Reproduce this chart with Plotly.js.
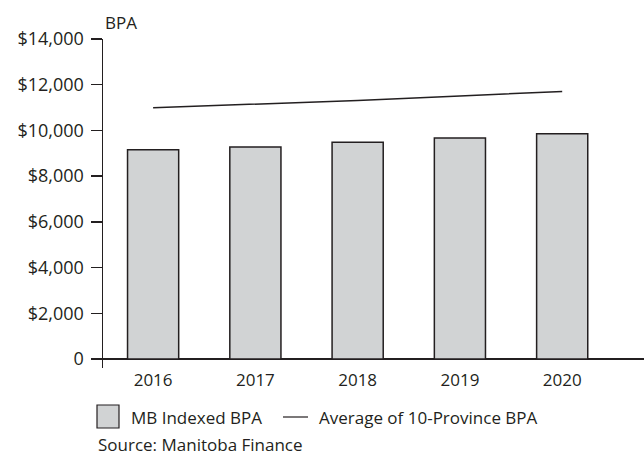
<!DOCTYPE html>
<html>
<head>
<meta charset="utf-8">
<script src="https://cdn.plot.ly/plotly-3.0.1.min.js"></script>
<style>html,body{margin:0;padding:0;background:#fff;}#chart{width:644px;height:459px;}</style>
</head>
<body>
<div id="chart"></div>
<script>
var years = ['2016', '2017', '2018', '2019', '2020'];
var mbIndexedBPA = [9160, 9270, 9480, 9670, 9860];
var avgProvinceBPA = [10990, 11150, 11310, 11510, 11700];
var yTickVals = [0, 2000, 4000, 6000, 8000, 10000, 12000, 14000];
var yTickText = ['0', '$2,000', '$4,000', '$6,000', '$8,000', '$10,000', '$12,000', '$14,000'];
var seriesNames = ['MB Indexed BPA', 'Average of 10-Province BPA'];
var yAxisLabel = 'BPA';
var sourceNote = 'Source: Manitoba Finance';

var W = 644, H = 459;
var mL = 103, mR = 0, mT = 39, mB = 91;
function px(x) { return (x - mL) / (W - mL - mR); }
function py(y) { return (H - mB - y) / (H - mT - mB); }

var ink = '#231f20';
var fontFam = '"Open Sans", "DejaVu Sans", sans-serif';

var traces = [
  {
    type: 'bar', x: years, y: mbIndexedBPA, name: seriesNames[0],
    marker: {color: '#d1d3d4', line: {color: ink, width: 1.5}},
    hoverinfo: 'skip', showlegend: false
  },
  {
    type: 'scatter', mode: 'lines', x: years, y: avgProvinceBPA, name: seriesNames[1],
    line: {color: ink, width: 1.5}, hoverinfo: 'skip', showlegend: false
  }
];

var layout = {
  width: W, height: H,
  margin: {l: mL, r: mR, t: mT, b: mB, pad: 0},
  paper_bgcolor: '#fff', plot_bgcolor: '#fff',
  font: {family: fontFam, size: 17, color: ink},
  bargap: 0.5,
  showlegend: false,
  xaxis: {
    type: 'category', range: [-0.49, 4.8],
    showline: false, showgrid: false, zeroline: false,
    ticks: '', tickfont: {size: 17, color: ink}, fixedrange: true
  },
  yaxis: {
    range: [-394, 14000],
    tickvals: yTickVals, ticktext: yTickText,
    showline: true, linecolor: ink, linewidth: 1.5,
    ticks: 'outside', ticklen: 11, tickwidth: 1.5, tickcolor: ink,
    ticklabelstandoff: 3,
    showgrid: false, zeroline: true, zerolinecolor: ink, zerolinewidth: 1.5,
    tickfont: {size: 18, color: ink}, fixedrange: true
  },
  shapes: [
    {type: 'rect', xref: 'paper', yref: 'paper', x0: px(97), x1: px(119), y0: py(428), y1: py(405),
     fillcolor: '#d1d3d4', line: {color: ink, width: 1.2}},
    {type: 'line', xref: 'paper', yref: 'paper', x0: px(283), x1: px(308), y0: py(417), y1: py(417),
     line: {color: ink, width: 1.2}}
  ],
  annotations: [
    {xref: 'paper', yref: 'paper', x: px(103), y: py(23), xanchor: 'left', yanchor: 'middle',
     text: yAxisLabel, showarrow: false, font: {size: 17, color: ink}},
    {xref: 'paper', yref: 'paper', x: px(129), y: py(417), xanchor: 'left', yanchor: 'middle',
     text: seriesNames[0], showarrow: false, font: {size: 17, color: ink}},
    {xref: 'paper', yref: 'paper', x: px(317), y: py(417), xanchor: 'left', yanchor: 'middle',
     text: seriesNames[1], showarrow: false, font: {size: 17, color: ink}},
    {xref: 'paper', yref: 'paper', x: px(96), y: py(458), xanchor: 'left', yanchor: 'bottom',
     text: sourceNote, showarrow: false, font: {size: 17, color: ink}}
  ]
};

Plotly.newPlot('chart', traces, layout, {staticPlot: true, displayModeBar: false});
</script>
</body>
</html>
